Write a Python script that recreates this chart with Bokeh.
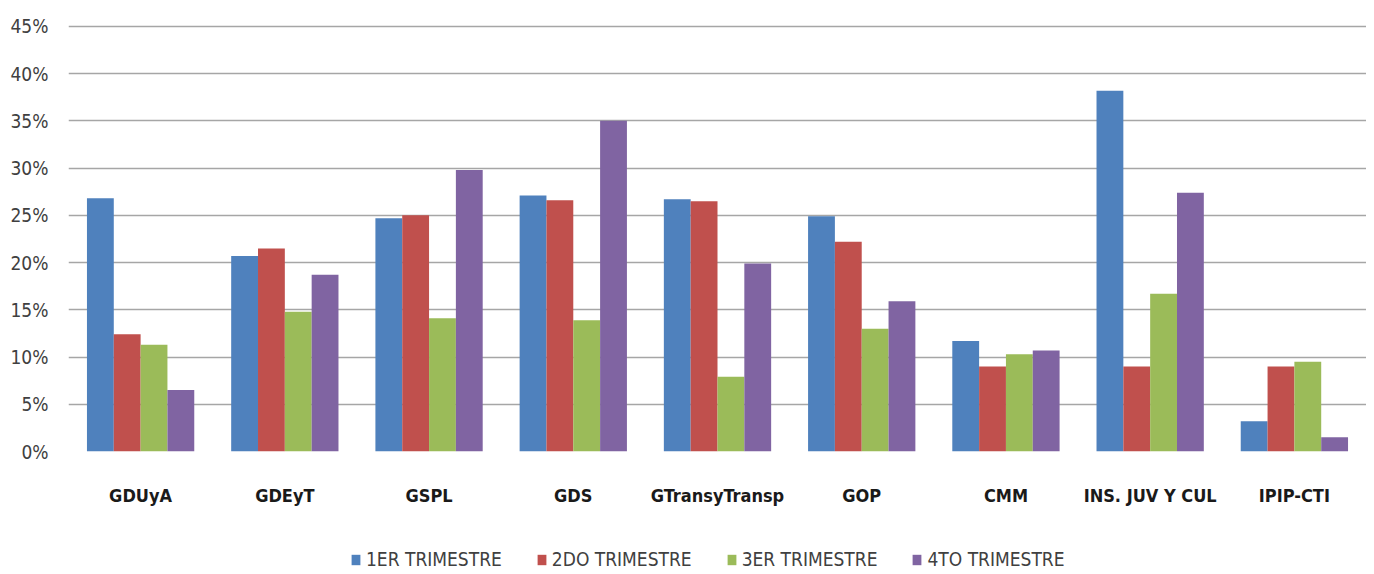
from bokeh.plotting import figure
from bokeh.layouts import column
from bokeh.models import ColumnDataSource, FactorRange, Legend, LegendItem, PrintfTickFormatter, FixedTicker, Range1d
from bokeh.transform import dodge
from bokeh.embed import file_html
from bokeh.resources import INLINE

categories = ["GDUyA", "GDEyT", "GSPL", "GDS", "GTransyTransp", "GOP", "CMM", "INS. JUV Y CUL", "IPIP-CTI"]
series_names = ["1ER TRIMESTRE", "2DO TRIMESTRE", "3ER TRIMESTRE", "4TO TRIMESTRE"]
t1 = [26.8, 20.7, 24.7, 27.1, 26.7, 24.9, 11.7, 38.2, 3.2]
t2 = [12.4, 21.5, 25.0, 26.6, 26.5, 22.2, 9.0, 9.0, 9.0]
t3 = [11.3, 14.8, 14.1, 13.9, 7.9, 13.0, 10.3, 16.7, 9.5]
t4 = [6.5, 18.7, 29.8, 35.0, 19.9, 15.9, 10.7, 27.4, 1.5]
y_ticks = [0, 5, 10, 15, 20, 25, 30, 35, 40, 45]
colors = ["#4F81BD", "#C0504D", "#9BBB59", "#8064A2"]
keys = ["t1", "t2", "t3", "t4"]

FONT = "DejaVu Sans Condensed, Liberation Sans, sans-serif"

source = ColumnDataSource(dict(cat=categories, t1=t1, t2=t2, t3=t3, t4=t4))

p = figure(x_range=FactorRange(*categories), y_range=Range1d(0, 45.2),
           width=1366, height=508, output_backend="svg", toolbar_location=None,
           min_border_left=68, min_border_right=0, min_border_top=24, min_border_bottom=50)

bw = 0.186
for i, (key, col) in enumerate(zip(keys, colors)):
    p.vbar(x=dodge("cat", (i - 1.5) * bw, range=p.x_range), top=key, width=bw,
           source=source, fill_color=col, line_color=None)

p.outline_line_color = None
p.xgrid.grid_line_color = None
p.ygrid.grid_line_color = "#A6A6A6"
p.ygrid.grid_line_width = 1.5
p.yaxis.ticker = FixedTicker(ticks=y_ticks)
p.yaxis.formatter = PrintfTickFormatter(format="%d%%")
p.yaxis.axis_line_color = None
p.yaxis.major_tick_line_color = None
p.yaxis.minor_tick_line_color = None
p.yaxis.major_label_text_font = FONT
p.yaxis.major_label_text_font_size = "19px"
p.yaxis.major_label_text_color = "#404040"
p.yaxis.major_label_standoff = 14

p.xaxis.axis_line_color = None
p.xaxis.major_tick_line_color = None
p.xaxis.major_label_text_font = FONT
p.xaxis.major_label_text_font_size = "18px"
p.xaxis.major_label_text_font_style = "bold"
p.xaxis.major_label_text_color = "#1a1a1a"
p.xaxis.major_label_standoff = 27

# legend strip below the chart (swatch glyphs sit outside the visible range)
leg_src = ColumnDataSource(dict(x=[5], top=[0.5]))
p2 = figure(width=1366, height=62, output_backend="svg", toolbar_location=None,
            x_range=Range1d(0, 1), y_range=Range1d(0, 1),
            x_axis_type=None, y_axis_type=None,
            min_border_left=0, min_border_right=0, min_border_top=0, min_border_bottom=0)
p2.outline_line_color = None
p2.grid.visible = False
leg_renderers = [p2.vbar(x="x", top="top", width=0.1, source=leg_src, fill_color=c, line_color=None)
                 for c in colors]
legend = Legend(items=[LegendItem(label=n, renderers=[r]) for n, r in zip(series_names, leg_renderers)],
                orientation="horizontal", location=(282, 0),
                glyph_width=11, glyph_height=13, label_standoff=5, spacing=34,
                padding=0, margin=0, border_line_color=None, background_fill_alpha=0,
                label_text_font=FONT, label_text_font_size="19px", label_text_color="#404040")
p2.add_layout(legend, "center")

layout = column(p, p2, spacing=0)
open("out.html", "w").write(file_html(layout, INLINE))
